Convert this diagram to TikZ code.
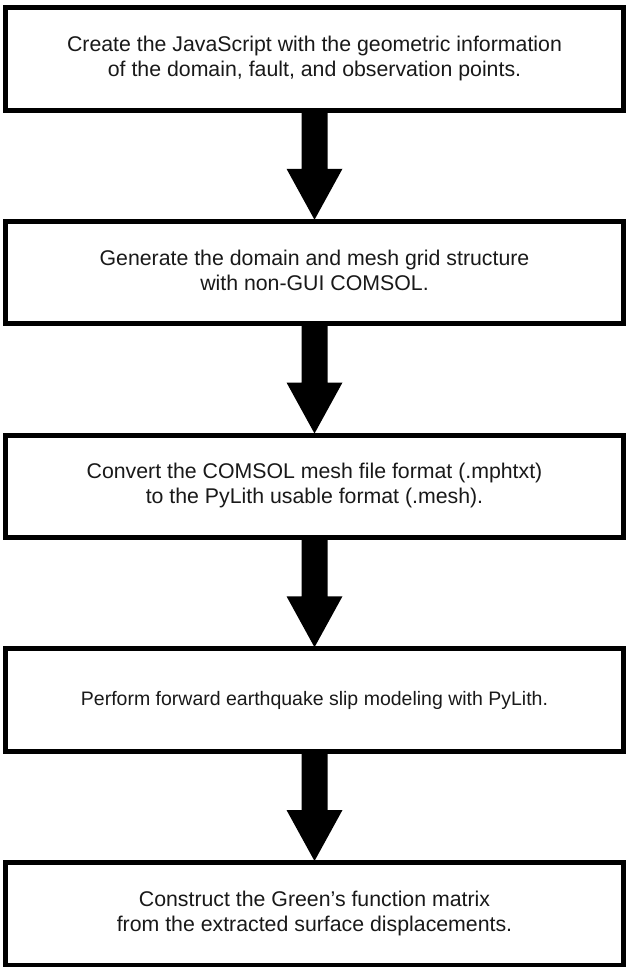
\documentclass[tikz,border=0pt]{standalone}
\usepackage{fontspec}
\setmainfont{Liberation Sans}
\usetikzlibrary{calc}
\tikzset{
  stepbox/.style={draw=black, line width=5pt, rectangle, minimum width=618pt, minimum height=102.5pt, align=center, fill=white, font=\fontsize{21.3}{25}\selectfont, text=black!90},
  flowarrow/.style={fill=black}
}
\newcommand{\flowarr}[2]{%
  \fill[flowarrow] ($(#1.south)+(-13pt,1pt)$) -- ($(#1.south)+(13pt,1pt)$) -- ($(#2.north)+(13pt,50pt)$) -- ($(#2.north)+(28pt,50pt)$) -- ($(#2.north)+(0,-1pt)$) -- ($(#2.north)+(-28pt,50pt)$) -- ($(#2.north)+(-13pt,50pt)$) -- cycle;}
\begin{document}
\begin{tikzpicture}[x=1pt,y=1pt]
\useasboundingbox (0,0) rectangle (626,-967);
\node[stepbox] (s1) at (314.5,-58.75) {\raisebox{3pt}{\begin{tabular}{c}Create the JavaScript with the geometric information\\of the domain, fault, and observation points.\end{tabular}}};
\node[stepbox] (s2) at (314.5,-272.5) {\raisebox{3pt}{\begin{tabular}{c}Generate the domain and mesh grid structure\\with non-GUI COMSOL.\end{tabular}}};
\node[stepbox] (s3) at (314.5,-486.25) {\raisebox{3pt}{\begin{tabular}{c}Convert the COMSOL mesh file format (.mphtxt)\\to the PyLith usable format (.mesh).\end{tabular}}};
\node[stepbox, font=\fontsize{19.5}{24}\selectfont] (s4) at (314.5,-700) {Perform forward earthquake slip modeling with PyLith.};
\node[stepbox] (s5) at (314.5,-913.75) {\raisebox{3pt}{\begin{tabular}{c}Construct the Green’s function matrix\\from the extracted surface displacements.\end{tabular}}};
\flowarr{s1}{s2}
\flowarr{s2}{s3}
\flowarr{s3}{s4}
\flowarr{s4}{s5}
\end{tikzpicture}
\end{document}
